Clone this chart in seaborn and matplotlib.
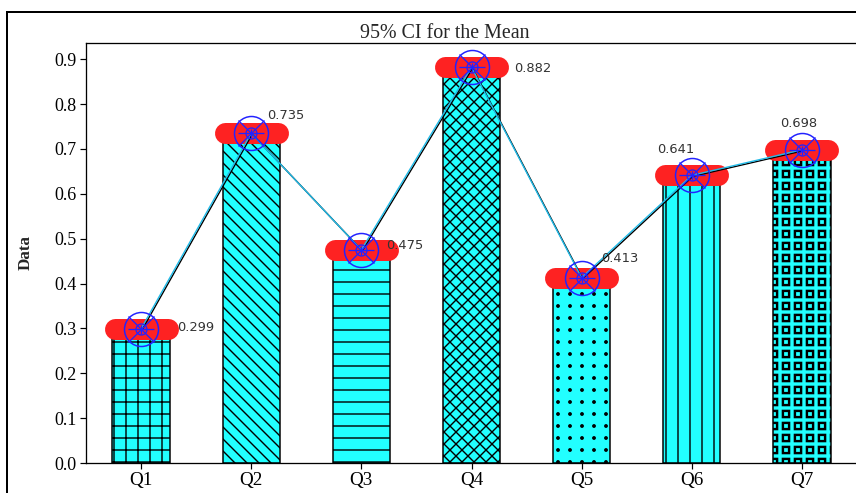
import numpy as np
import matplotlib
matplotlib.use('Agg')
import matplotlib.pyplot as plt
import matplotlib.hatch as mhatch
import matplotlib.patheffects as pe
from matplotlib.path import Path
from matplotlib.patches import Rectangle
import seaborn as sns

questions = ['Q1', 'Q2', 'Q3', 'Q4', 'Q5', 'Q6', 'Q7']
means = [0.299, 0.735, 0.475, 0.882, 0.413, 0.641, 0.698]
hatches = ['+', '\\\\', '-', 'xx', '.', '|', 'o']
# label offsets (points) from each mean marker
label_dx = [36, 16, 25, 43, 19, -35, -22]
label_dy = [1, 18, 4, -1, 19, 26, 26]


# hatch shapes on a straight grid (squares for 'o', dots for '.')
class GridShapes(mhatch.HatchPatternBase):
    char = 'o'
    half = 0.3
    hollow = True

    def __init__(self, hatch, density):
        self.num_rows = hatch.count(self.char) * density
        outer = self.outline() * self.half
        if self.hollow:
            self.shape = np.concatenate([outer, outer[::-1] * 0.72])
            self.codes = np.concatenate([self.outline_codes(), self.outline_codes()])
        else:
            self.shape = outer
            self.codes = self.outline_codes()
        self.num_vertices = self.num_rows ** 2 * len(self.shape)

    def outline(self):
        return np.array([[-1, -1], [1, -1], [1, 1], [-1, 1], [-1, -1]], float)

    def outline_codes(self):
        return np.array([Path.MOVETO, Path.LINETO, Path.LINETO,
                         Path.LINETO, Path.CLOSEPOLY], dtype=Path.code_type)

    def set_vertices_and_codes(self, vertices, codes):
        step = 1.0 / self.num_rows
        n = len(self.shape)
        cursor = 0
        for i in range(self.num_rows):
            for j in range(self.num_rows):
                centre = np.array([(i + 0.5) * step, (j + 0.5) * step])
                vertices[cursor:cursor + n] = self.shape * step + centre
                codes[cursor:cursor + n] = self.codes
                cursor += n


class GridDots(GridShapes):
    char = '.'
    half = 0.1
    hollow = False

    def outline(self):
        return Path.unit_circle().vertices

    def outline_codes(self):
        return Path.unit_circle().codes


try:
    ht = mhatch._hatch_types
    ht[ht.index(mhatch.SmallCircles)] = GridShapes
    ht[ht.index(mhatch.SmallFilledCircles)] = GridDots
except (AttributeError, ValueError):
    pass

sns.set_style('ticks')
plt.rcParams['font.family'] = ['Liberation Serif', 'DejaVu Serif']
plt.rcParams['hatch.linewidth'] = 1.4

fig = plt.figure(figsize=(856 / 72, 493 / 72), dpi=72)
ax = fig.add_axes([86 / 856, 30 / 493, 771 / 856, 420 / 493])

sns.barplot(x=questions, y=means, color='#22ffff', saturation=1, width=0.52,
            edgecolor='black', linewidth=1.5, errorbar=None, ax=ax, zorder=2)
for patch, h in zip(ax.patches, hatches):
    patch.set_hatch(h)

xs = np.arange(len(questions))
ax.hlines(means, xs - 0.24, xs + 0.24, colors='#fe2222', linewidth=21,
          capstyle='round', zorder=3)

ax.plot(xs, means, color='#22bbe8', linewidth=1.4, zorder=4,
        path_effects=[pe.SimpleLineShadow(offset=(1, -1), shadow_color='black', alpha=1),
                      pe.Normal()])

blue = '#2222ff'
ax.plot(xs, means, 'o', ms=34, mfc='none', mec=blue, mew=1.5, zorder=5)
ax.plot(xs, means, 'x', ms=26, mec=blue, mew=1.3, zorder=5)
ax.plot(xs, means, '_', ms=26, mec=blue, mew=1.3, zorder=5)
ax.plot(xs, means, 'o', ms=11, mfc='none', mec=blue, mew=1.3, zorder=5)
ax.plot(xs, means, '+', ms=9, mec=blue, mew=1.3, zorder=5)

for x, m, dx, dy in zip(xs, means, label_dx, label_dy):
    ax.annotate(f'{m:.3f}', (x, m), xytext=(dx, dy), textcoords='offset points',
                ha='left', va='center', fontsize=13, color='#333333',
                family=['DejaVu Sans'], zorder=6)

ax.set_xlim(-0.5, 6.5)
ax.set_ylim(0, 0.936)
ax.set_yticks(np.arange(0, 0.91, 0.1))
ax.set_yticklabels([f'{t:.1f}' for t in np.arange(0, 0.91, 0.1)])
ax.set_title('95% CI for the Mean', fontsize=20, pad=2, x=0.465)
ax.set_ylabel('Data', fontsize=17, fontweight='bold', labelpad=20)
ax.set_xlabel('')
ax.tick_params(axis='both', direction='out', length=6, width=1.2, colors='black')
ax.tick_params(axis='y', labelsize=18)
ax.tick_params(axis='x', labelsize=19)
for s in ax.spines.values():
    s.set_linewidth(1.3)
    s.set_color('black')

fig.add_artist(Rectangle((7 / 856, -0.05), 1.0, 1.05 - 12.5 / 493, fill=False,
                         linewidth=2, edgecolor='black', transform=fig.transFigure))

plt.savefig('out.png', dpi=72)
plt.close()
